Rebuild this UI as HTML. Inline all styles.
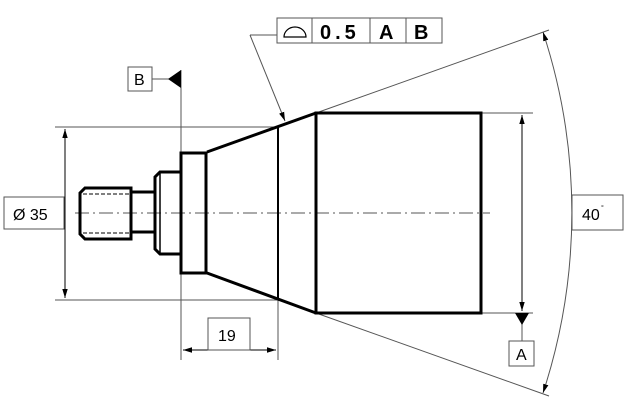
<!DOCTYPE html>
<html><head><style>body{margin:0;background:#fff}svg{display:block}text{font-family:"Liberation Sans",sans-serif}</style></head><body>
<svg width="629" height="404" viewBox="0 0 629 404" xmlns="http://www.w3.org/2000/svg">
<defs>
<marker id="ar" viewBox="0 0 10 10" refX="10" refY="5" markerWidth="9" markerHeight="9" markerUnits="userSpaceOnUse" orient="auto-start-reverse"><path d="M0,2 L10,5 L0,8 z" fill="#000"/></marker>
</defs>
<g stroke="#555" stroke-width="1" fill="none">
<line x1="75" y1="213" x2="490" y2="213" stroke-dasharray="14,4,2,4"/>
<line x1="55" y1="127" x2="278" y2="127"/>
<line x1="55" y1="300" x2="278" y2="300"/>
<line x1="181" y1="70" x2="181" y2="360"/>
<line x1="278" y1="300" x2="278" y2="360"/>
<line x1="481" y1="113" x2="533" y2="113"/>
<line x1="481" y1="313" x2="533" y2="313"/>
<line x1="316" y1="113" x2="549" y2="30"/>
<line x1="316" y1="313" x2="549" y2="396"/>
<polyline points="277,35 250,35"/>
<line x1="152" y1="79" x2="170" y2="79"/>
<line x1="522" y1="323" x2="522" y2="341"/>
</g>
<g stroke="#000" stroke-width="1" fill="none">
<line x1="65" y1="129" x2="65" y2="298" marker-start="url(#ar)" marker-end="url(#ar)"/>
<line x1="183" y1="350" x2="276" y2="350" marker-start="url(#ar)" marker-end="url(#ar)"/>
<line x1="522" y1="115" x2="522" y2="311" marker-start="url(#ar)" marker-end="url(#ar)"/>
<line x1="250" y1="35" x2="285" y2="121" marker-end="url(#ar)" stroke="#555"/>
<path d="M543,32 A579,579 0 0 1 543,393" marker-start="url(#ar)" marker-end="url(#ar)" stroke="#555"/>
</g>
<g stroke="#000" stroke-width="3" fill="none" stroke-linejoin="miter">
<rect x="316" y="113" width="165" height="200"/>
<polyline points="207,152 316,113"/>
<polyline points="207,273 316,313"/>
<line x1="278" y1="127" x2="278" y2="300" stroke-width="2"/>
<rect x="181" y="153" width="25" height="120"/>
<polygon points="160,172 181,172 181,254 160,254 155,249 155,177"/>
<line x1="160" y1="172" x2="160" y2="254" stroke-width="1.5"/>
<rect x="131" y="192" width="24" height="40"/>
<polygon points="85,188 131,188 131,239 85,239 80,234 80,193"/>
</g>
<g stroke="#000" stroke-width="1" stroke-dasharray="4,2">
<line x1="83" y1="194" x2="131" y2="194"/>
<line x1="83" y1="233" x2="131" y2="233"/>
</g>
<polygon points="168,79 181,70 181,88" fill="#000"/>
<polygon points="515,313 529,313 522,325" fill="#000"/>
<g stroke="#555" stroke-width="1" fill="#fff">
<rect x="4" y="197" width="60" height="32"/>
<rect x="208" y="318" width="42" height="32"/>
<rect x="128" y="67" width="24" height="24"/>
<rect x="509" y="341" width="25" height="25"/>
<rect x="572" y="195" width="51" height="35"/>
<rect x="277" y="18" width="165" height="25"/>
<line x1="312" y1="18" x2="312" y2="43"/>
<line x1="370" y1="18" x2="370" y2="43"/>
<line x1="406" y1="18" x2="406" y2="43"/>
</g>
<path d="M284,37 A11,10 0 0 1 306,37 Z" stroke="#000" stroke-width="1.2" fill="none"/>
<g fill="#000" font-size="16">
<text x="13" y="220">Ø 35</text>
<text x="218" y="341">19</text>
<text x="134" y="85">B</text>
<text x="516" y="360">A</text>
<text x="582" y="220">40</text>
<text x="601" y="210" font-size="7">°</text>
</g>
<g fill="#000" font-size="20" font-weight="bold">
<text x="320" y="39" letter-spacing="4">0.5</text>
<text x="379" y="39">A</text>
<text x="414" y="39">B</text>
</g>
</svg>
</body></html>
